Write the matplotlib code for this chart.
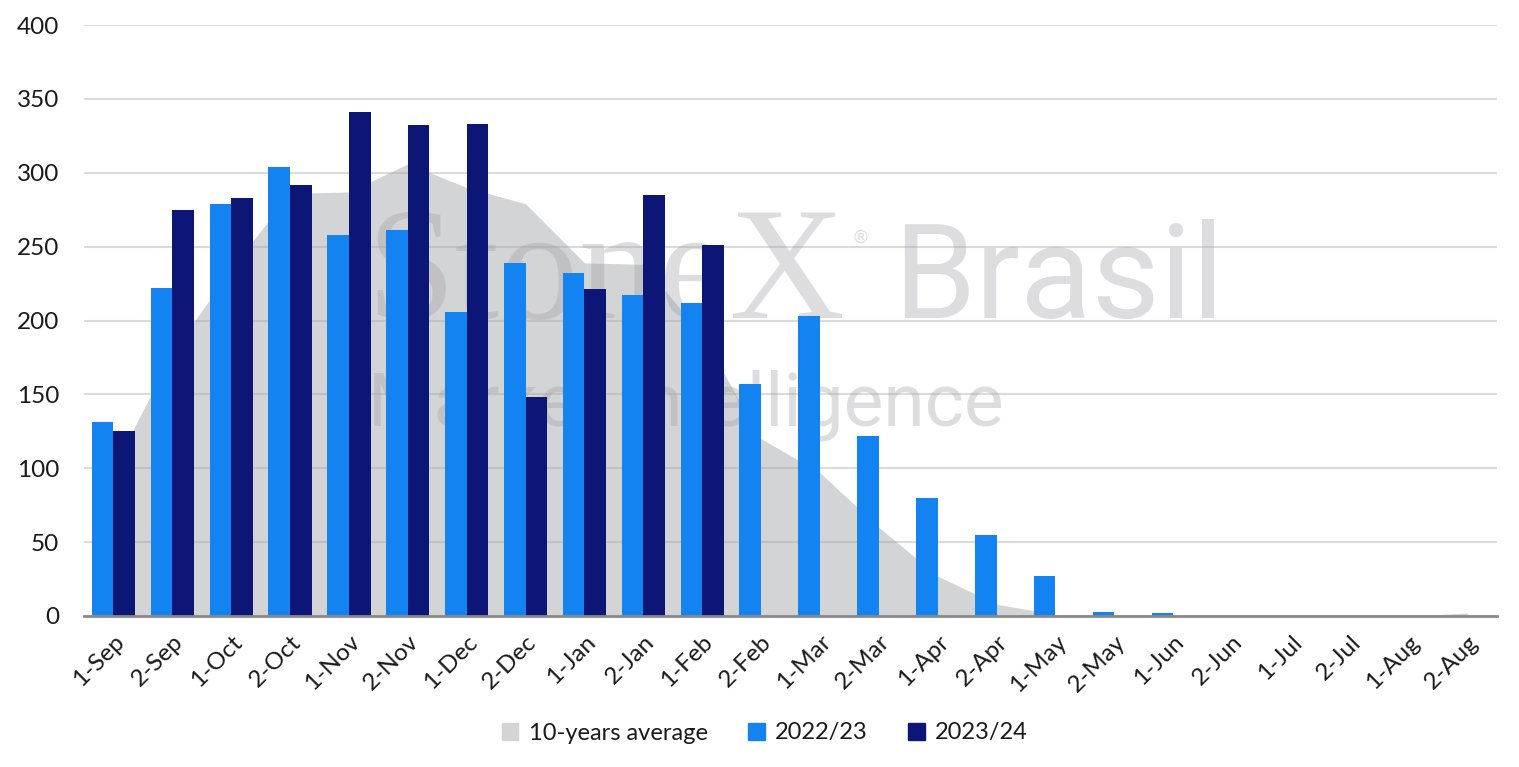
import numpy as np
import matplotlib
matplotlib.use('Agg')
import matplotlib.pyplot as plt
import matplotlib.transforms as mtransforms
from matplotlib.patches import Patch

plt.rcParams['font.family'] = ['Lato', 'DejaVu Sans']

categories = ['1-Sep', '2-Sep', '1-Oct', '2-Oct', '1-Nov', '2-Nov', '1-Dec', '2-Dec',
              '1-Jan', '2-Jan', '1-Feb', '2-Feb', '1-Mar', '2-Mar', '1-Apr', '2-Apr',
              '1-May', '2-May', '1-Jun', '2-Jun', '1-Jul', '2-Jul', '1-Aug', '2-Aug']

avg_10y = [100, 178, 235, 286, 287, 306, 290, 279, 239, 238, 190, 120,
           97, 60, 27, 8, 1, 0, 0, 0, 0, 0, 0, 2]

s2022 = [131, 222, 279, 304, 258, 261, 206, 239, 232, 217, 212, 157,
         203, 122, 80, 55, 27, 3, 2, 0, 0, 0, 0, 0]

s2023 = [125, 275, 283, 292, 341, 332, 333, 148, 221, 285, 251]

y_ticks = [0, 50, 100, 150, 200, 250, 300, 350, 400]

c_avg = '#d3d4d6'
c_2022 = '#1483f2'
c_2023 = '#0c1677'

W, H = 1519, 767
fig = plt.figure(figsize=(W / 100, H / 100), dpi=100)
ax = fig.add_axes([84 / W, 1 - 616 / H, (1497 - 84) / W, (616 - 25) / H])

x = np.arange(len(categories))
bw = 0.368

ax.fill_between(x, avg_10y, color=c_avg, lw=0, zorder=0.3)
ax.bar(x - bw / 2, s2022, width=bw, color=c_2022, zorder=3)
ax.bar(x[:len(s2023)] + bw / 2, s2023, width=bw, color=c_2023, zorder=3)

ax.set_xlim(-0.5, len(categories) - 0.5)
ax.set_ylim(0, 400)
ax.set_yticks(y_ticks)
ax.set_xticks(x)
ax.set_xticklabels(categories, rotation=45, ha='right', va='top', rotation_mode='anchor')
shift = mtransforms.ScaledTranslation(5 / 100, 0, fig.dpi_scale_trans)
for lab in ax.get_xticklabels():
    lab.set_transform(lab.get_transform() + shift)

ax.set_axisbelow(True)
ax.yaxis.grid(True, color='#a6a6a6', alpha=0.4, lw=1.5)
ax.xaxis.grid(False)
for s in ['top', 'right', 'left']:
    ax.spines[s].set_visible(False)
ax.spines['bottom'].set_color('#898989')
ax.spines['bottom'].set_linewidth(2)
ax.spines['bottom'].set_zorder(4)
ax.tick_params(axis='y', length=0, pad=18, labelsize=17.5, labelcolor='#1a1a1a')
ax.tick_params(axis='x', length=0, pad=11, labelsize=17.5, labelcolor='#1a1a1a')

# watermark
wm = dict(transform=fig.transFigure, color='#a0a0a4', alpha=0.35, zorder=2,
          va='baseline', ha='left', clip_on=False)
ax.text(366 / W, 1 - 318 / H, 'StoneX', family='Liberation Serif', fontsize=115, **wm)
ax.text(852 / W, 1 - 243 / H, '®', family='DejaVu Sans', fontsize=13, **wm)
ax.text(893 / W, 1 - 318 / H, 'Brasil', family=['Roboto', 'Liberation Sans'],
        fontsize=95, **wm)
ax.text(368 / W, 1 - 425 / H, 'Market Intelligence', family=['Roboto', 'Liberation Sans'],
        fontsize=54, **wm)

handles = [Patch(color=c_avg, label='10-years average'),
           Patch(color=c_2022, label='2022/23'),
           Patch(color=c_2023, label='2023/24')]
fig.legend(handles=handles, loc='center', bbox_to_anchor=(765 / W, 1 - 733 / H), ncol=3,
           frameon=False, fontsize=17, handlelength=0.7, handleheight=0.7,
           handletextpad=0.45, columnspacing=1.7, labelcolor='#1a1a1a')

fig.savefig('out.png', dpi=100)
